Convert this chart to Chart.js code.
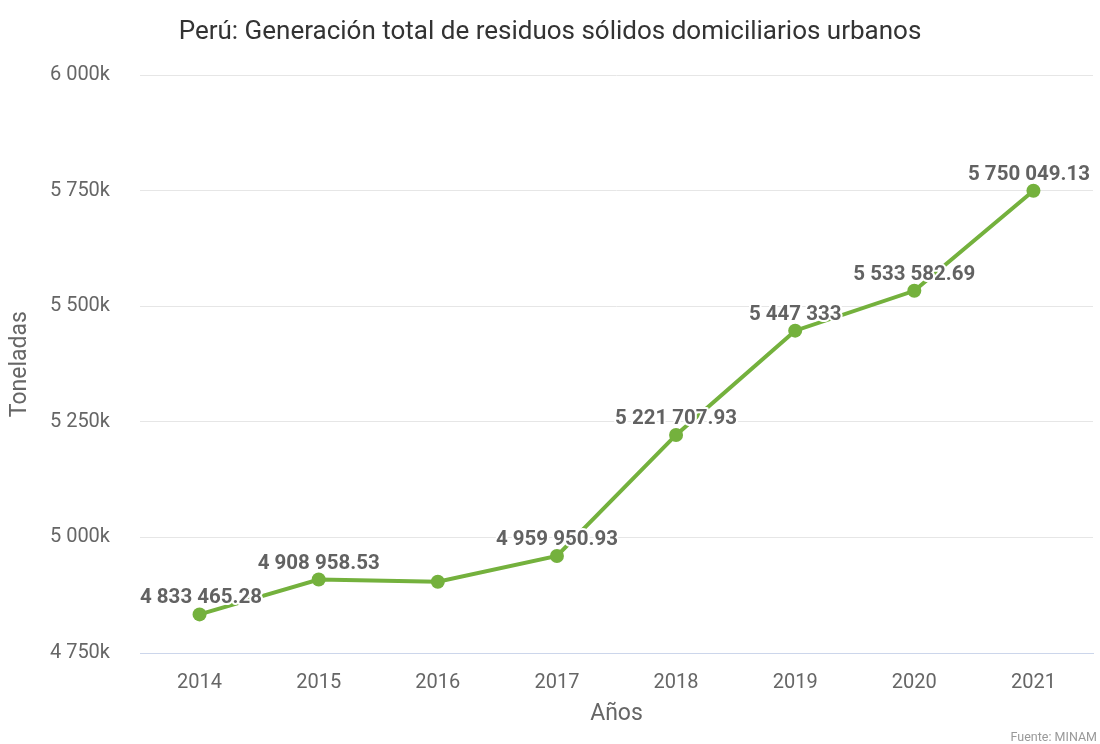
<!DOCTYPE html>
<html>
<head>
<meta charset="utf-8">
<script src="https://cdn.jsdelivr.net/npm/chart.js@4.4.1/dist/chart.umd.min.js"></script>
<style>
  html, body { margin: 0; padding: 0; background: #fff; }
  #wrap { width: 1100px; height: 744px; position: relative; }
</style>
</head>
<body>
<div id="wrap"><canvas id="c" width="1100" height="744"></canvas></div>
<script>
const categories = ['2014', '2015', '2016', '2017', '2018', '2019', '2020', '2021'];
const residuos = [4833465.28, 4908958.53, 4904000, 4959950.93, 5221707.93, 5447333, 5533582.69, 5750049.13];
const labelShown = [true, true, false, true, true, true, true, true];
const yTicks = [4750000, 5000000, 5250000, 5500000, 5750000, 6000000];
const titleText = 'Perú: Generación total de residuos sólidos domiciliarios urbanos';
const yTitle = 'Toneladas';
const xTitle = 'Años';
const sourceText = 'Fuente: MINAM';

const FONT = 'Roboto, "Noto Sans", sans-serif';

function groupThousands(intStr) {
  return intStr.replace(/\B(?=(\d{3})+(?!\d))/g, ' ');
}
function fmtValue(v) {
  const s = String(v);
  const parts = s.split('.');
  return groupThousands(parts[0]) + (parts[1] ? '.' + parts[1] : '');
}
function fmtTick(v) {
  return groupThousands(String(Math.round(v / 1000))) + 'k';
}

const labelPlugin = {
  id: 'valueLabels',
  afterDatasetsDraw(chart) {
    const ctx = chart.ctx;
    const meta = chart.getDatasetMeta(0);
    const area = chart.chartArea;
    ctx.save();
    ctx.font = 'bold 20.5px ' + FONT;
    ctx.textAlign = 'center';
    ctx.textBaseline = 'alphabetic';
    ctx.lineJoin = 'round';
    meta.data.forEach((pt, i) => {
      if (!labelShown[i]) return;
      const txt = fmtValue(residuos[i]);
      const w = ctx.measureText(txt).width;
      let x = pt.x;
      x = Math.max(area.left + w / 2, Math.min(area.right - w / 2 - 3, x));
      const y = pt.y - 11;
      ctx.strokeStyle = '#ffffff';
      ctx.lineWidth = 4;
      ctx.strokeText(txt, x, y);
      ctx.fillStyle = '#626262';
      ctx.fillText(txt, x, y);
    });
    ctx.restore();
  },
  afterDraw(chart) {
    const ctx = chart.ctx;
    ctx.save();
    ctx.font = '12.5px ' + FONT;
    ctx.fillStyle = '#999999';
    ctx.textAlign = 'right';
    ctx.textBaseline = 'alphabetic';
    ctx.fillText(sourceText, 1097, 741);
    ctx.restore();
  }
};

new Chart(document.getElementById('c'), {
  type: 'line',
  data: {
    labels: categories,
    datasets: [{
      data: residuos,
      borderColor: '#74b13d',
      backgroundColor: '#74b13d',
      borderWidth: 4,
      pointRadius: 7,
      pointHoverRadius: 7,
      pointBackgroundColor: '#74b13d',
      pointBorderWidth: 0,
      tension: 0,
      fill: false
    }]
  },
  options: {
    responsive: false,
    animation: false,
    devicePixelRatio: 1,
    layout: { padding: { left: 0, right: 0, top: 0, bottom: 0 } },
    plugins: {
      legend: { display: false },
      tooltip: { enabled: false },
      title: {
        display: true,
        text: titleText,
        color: '#333333',
        font: { family: FONT, size: 26, weight: 'normal' },
        padding: { top: 17, bottom: 27 }
      }
    },
    scales: {
      x: {
        offset: true,
        grid: { display: false, drawTicks: false },
        border: { display: true, color: '#ccd6eb', width: 1 },
        ticks: { color: '#666666', font: { family: FONT, size: 20 }, padding: 18 },
        title: {
          display: true, text: xTitle, color: '#666666',
          font: { family: FONT, size: 23 }, padding: { top: 0, bottom: 16 }
        },
        afterFit(scale) { scale.height = 91; }
      },
      y: {
        min: 4750000,
        max: 6000000,
        afterBuildTicks(scale) { scale.ticks = yTicks.map(v => ({ value: v })); },
        grid: { color: '#e6e6e6', lineWidth: 1, drawTicks: false },
        border: { display: false },
        ticks: {
          color: '#666666', font: { family: FONT, size: 20 }, padding: 30,
          callback: (v) => fmtTick(v)
        },
        title: {
          display: true, text: yTitle, color: '#666666',
          font: { family: FONT, size: 23 }, padding: { top: 6, bottom: 0 }
        },
        afterFit(scale) { scale.width = 140; }
      }
    }
  },
  plugins: [labelPlugin]
});
</script>
</body>
</html>
